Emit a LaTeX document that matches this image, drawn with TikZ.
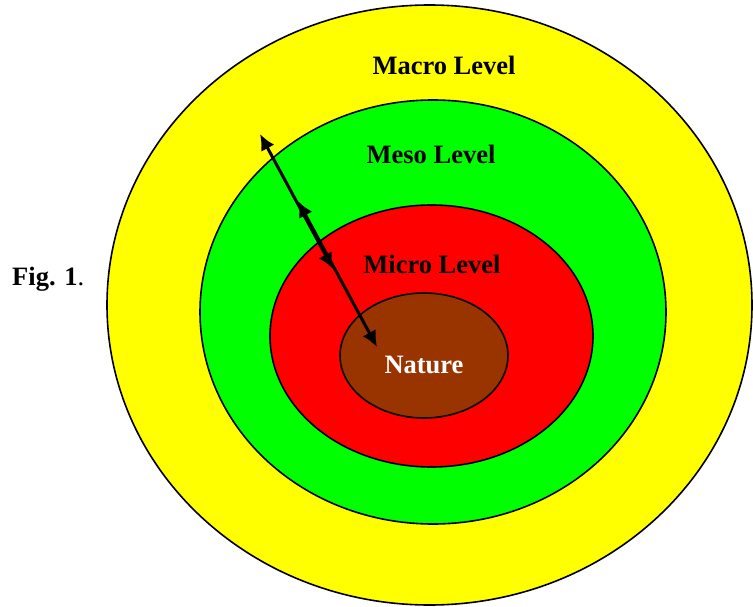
\documentclass[tikz,border=0pt]{standalone}
\usepackage{fontspec}
\setmainfont{Liberation Serif}
\usepackage{tikz}
\usetikzlibrary{shapes.geometric, arrows.meta, positioning}
\usepackage{xcolor}
\definecolor{macroyellow}{HTML}{FFFF00}
\definecolor{mesogreen}{HTML}{00FF00}
\definecolor{microred}{HTML}{FF0000}
\definecolor{naturebrown}{HTML}{993300}

\begin{document}
\begin{tikzpicture}[
    level/.style={ellipse, draw, line width=1.6pt, inner sep=0pt},
    lab/.style={font=\fontsize{26.5}{30}\selectfont\bfseries, anchor=base, inner sep=0pt},
    arrow/.style={line width=3pt, {Latex[length=16pt, width=15pt]}-{Latex[length=16pt, width=15pt]}}
]
\useasboundingbox (0pt,0pt) rectangle (753pt,-607pt);
\node[level, fill=macroyellow, minimum width=645pt, minimum height=600pt] (macro) at (429.5pt,-305pt) {};
\node[level, fill=mesogreen, minimum width=466pt, minimum height=424pt] (meso) at (433pt,-312pt) {};
\node[level, fill=microred, minimum width=323pt, minimum height=262pt] (micro) at (431.5pt,-336pt) {};
\node[level, fill=naturebrown, minimum width=168pt, minimum height=125pt] (nature) at (424pt,-355.5pt) {};

\node[lab] (macrolab) at (444pt,-75pt) {Macro Level};
\node[lab] (mesolab) at (431pt,-164pt) {Meso Level};
\node[lab] (microlab) at (432pt,-273pt) {Micro Level};
\node[lab, text=white] (naturelab) at (424pt,-373pt) {Nature};
\node[lab, anchor=base west, font=\fontsize{26.5}{30}\selectfont] (fig) at (12pt,-285pt) {\bfseries Fig. 1\mdseries.};

\coordinate (outerend) at (260pt,-134pt);
\coordinate (mesoend) at (298pt,-201pt);
\coordinate (microend) at (333pt,-269pt);
\coordinate (innerend) at (377pt,-347pt);
\draw[arrow] (outerend) -- (microend);
\draw[arrow] (mesoend) -- (innerend);
\end{tikzpicture}
\end{document}
